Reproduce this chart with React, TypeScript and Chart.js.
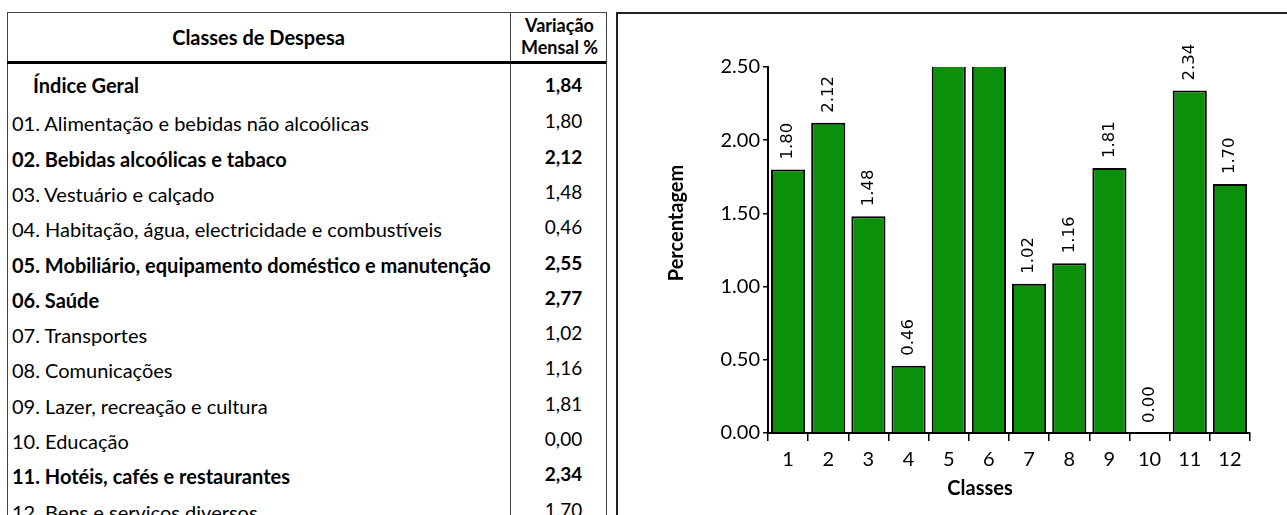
import React, { useEffect, useRef } from "react";
import { Chart, registerables } from "chart.js";

Chart.register(...registerables);

// ---- Data ----
const classLabels = ["1", "2", "3", "4", "5", "6", "7", "8", "9", "10", "11", "12"];
const monthlyVariation = [1.8, 2.12, 1.48, 0.46, 2.55, 2.77, 1.02, 1.16, 1.81, 0.0, 2.34, 1.7];
const yTickValues = [0, 0.5, 1, 1.5, 2, 2.5];
const xAxisTitle = "Classes";
const yAxisTitle = "Percentagem";

const tableHeaderLeft = "Classes de Despesa";
const tableHeaderRight = ["Variação", "Mensal %"];
const tableRowNames = [
  "Índice Geral",
  "01. Alimentação e bebidas não alcoólicas",
  "02. Bebidas alcoólicas e tabaco",
  "03. Vestuário e calçado",
  "04. Habitação, água, electricidade e combustíveis",
  "05. Mobiliário, equipamento doméstico e manutenção",
  "06. Saúde",
  "07. Transportes",
  "08. Comunicações",
  "09. Lazer, recreação e cultura",
  "10. Educação",
  "11. Hotéis, cafés e restaurantes",
  "12. Bens e serviços diversos",
];
const tableRowValues = ["1,84", "1,80", "2,12", "1,48", "0,46", "2,55", "2,77", "1,02", "1,16", "1,81", "0,00", "2,34", "1,70"];
const tableRowBold = [true, false, true, false, false, true, true, false, false, false, false, true, false];

const FONT = "Lato, 'Open Sans', sans-serif";

const barLabelPlugin = {
  id: "barLabels",
  afterDatasetsDraw(chart: any) {
    const ctx = chart.ctx;
    const yScale = chart.scales.y;
    const meta = chart.getDatasetMeta(0);
    const data = chart.data.datasets[0].data as number[];
    ctx.save();
    ctx.fillStyle = "#000";
    ctx.font = "16.5px 'DejaVu Sans', sans-serif";
    ctx.textAlign = "left";
    ctx.textBaseline = "middle";
    meta.data.forEach((bar: any, i: number) => {
      const v = data[i];
      if (v > yScale.max) return;
      ctx.save();
      ctx.translate(bar.x, bar.y - 10);
      ctx.rotate(-Math.PI / 2);
      ctx.fillText(v.toFixed(2), 0, 0);
      ctx.restore();
    });
    ctx.restore();
  },
};

const axisTitlePlugin = {
  id: "axisTitles",
  afterDraw(chart: any) {
    const ctx = chart.ctx;
    const area = chart.chartArea;
    ctx.save();
    ctx.fillStyle = "#000";
    ctx.textAlign = "center";
    ctx.textBaseline = "middle";
    ctx.font = `bold 20px ${FONT}`;
    ctx.fillText(xAxisTitle, (area.left + area.right) / 2 - 29, area.bottom + 56);
    ctx.translate(area.left - 91, (area.top + area.bottom) / 2 - 27);
    ctx.rotate(-Math.PI / 2);
    ctx.font = `bold 20px ${FONT}`;
    ctx.fillText(yAxisTitle, 0, 0);
    ctx.restore();
  },
};

function BarChart() {
  const ref = useRef<HTMLCanvasElement | null>(null);
  useEffect(() => {
    if (!ref.current) return;
    const chart = new Chart(ref.current, {
      type: "bar",
      data: {
        labels: classLabels,
        datasets: [
          {
            data: monthlyVariation,
            backgroundColor: "#0a900a",
            borderColor: "#000",
            borderWidth: (c: any) => (c.raw === 0 ? 0 : 2),
            barPercentage: 0.85,
            categoryPercentage: 1,
            clip: 0,
          } as any,
        ],
      },
      options: {
        animation: false,
        responsive: false,
        maintainAspectRatio: false,
        devicePixelRatio: 1,
        layout: { padding: { top: 53, right: 37, left: 0, bottom: 0 } },
        plugins: { legend: { display: false }, tooltip: { enabled: false } },
        scales: {
          x: {
            type: "category",
            offset: true,
            grid: {
              display: true,
              drawOnChartArea: false,
              drawTicks: true,
              tickLength: 8,
              color: "#000",
              lineWidth: 1.5,
              offset: true,
            },
            border: { display: true, color: "#000", width: 2 },
            ticks: { color: "#000", font: { family: FONT, size: 20 }, padding: 7, maxRotation: 0, autoSkip: false },
            title: { display: false },
            afterFit: (s: any) => {
              s.height = 82;
            },
          },
          y: {
            min: 0,
            max: 2.5,
            afterBuildTicks: (s: any) => {
              s.ticks = yTickValues.map((v) => ({ value: v }));
            },
            grid: { drawOnChartArea: false, drawTicks: true, tickLength: 5, color: "#000", lineWidth: 1.5 },
            border: { display: true, color: "#000", width: 2 },
            ticks: {
              color: "#000",
              font: { family: FONT, size: 20 },
              padding: 3,
              callback: (v: any) => Number(v).toFixed(2),
            },
            title: { display: false },
            afterFit: (s: any) => {
              s.width = 150;
            },
          },
        },
      } as any,
      plugins: [barLabelPlugin, axisTitlePlugin],
    });
    return () => chart.destroy();
  }, []);
  return <canvas ref={ref} width={669} height={501} style={{ position: "absolute", left: 618, top: 14, width: 669, height: 501 }} />;
}

const TABLE_LEFT = 7;
const TABLE_TOP = 12;
const SEP_X = 510;
const TABLE_RIGHT = 605;
const HEADER_BOTTOM = 62;
const ROW_PITCH = 35.3;
const FIRST_ROW_CENTER = 85;
const TEXT_SIZE = 20;
const VALUE_SIZE = 19;

function Table() {
  const border = "1px solid #444";
  return (
    <>
      <div style={{ position: "absolute", left: TABLE_LEFT, top: TABLE_TOP, width: TABLE_RIGHT - TABLE_LEFT, height: 520, borderLeft: border, borderTop: border, borderRight: border }} />
      <div style={{ position: "absolute", left: SEP_X, top: TABLE_TOP, width: 0, height: 520, borderLeft: border }} />
      <div style={{ position: "absolute", left: TABLE_LEFT, top: HEADER_BOTTOM - 1, width: TABLE_RIGHT - TABLE_LEFT + 1, height: 3, background: "#000" }} />
      <div style={{ position: "absolute", left: TABLE_LEFT, top: TABLE_TOP, width: SEP_X - TABLE_LEFT, height: HEADER_BOTTOM - TABLE_TOP, display: "flex", alignItems: "center", justifyContent: "center", fontWeight: 700, fontSize: TEXT_SIZE }}>
        {tableHeaderLeft}
      </div>
      <div style={{ position: "absolute", left: SEP_X + 4, top: TABLE_TOP + 1, width: TABLE_RIGHT - SEP_X - 4, height: HEADER_BOTTOM - TABLE_TOP - 4, display: "flex", flexDirection: "column", alignItems: "center", justifyContent: "center", fontWeight: 700, fontSize: 18, lineHeight: "22px" }}>
        {tableHeaderRight.map((t) => (
          <div key={t}>{t}</div>
        ))}
      </div>
      {tableRowNames.map((name, i) => {
        const cy = FIRST_ROW_CENTER + i * ROW_PITCH;
        const bold = tableRowBold[i];
        return (
          <React.Fragment key={name}>
            <div style={{ position: "absolute", left: i === 0 ? TABLE_LEFT + 26 : TABLE_LEFT + 5, top: cy - 12 + (i === 0 ? 0 : 3), height: 24, lineHeight: "24px", fontSize: TEXT_SIZE, fontWeight: bold ? 700 : 400, whiteSpace: "nowrap" }}>
              {name}
            </div>
            <div style={{ position: "absolute", left: SEP_X + 12, width: TABLE_RIGHT - SEP_X - 12, top: cy - 12 + (i === 0 ? 0 : 1), height: 24, lineHeight: "24px", textAlign: "center", fontSize: VALUE_SIZE, fontWeight: bold ? 700 : 400 }}>
              {tableRowValues[i]}
            </div>
          </React.Fragment>
        );
      })}
    </>
  );
}

export default function App() {
  return (
    <>
      <style>{`body{margin:0;background:#fff;}`}</style>
      <div style={{ position: "relative", width: 1287, height: 515, overflow: "hidden", background: "#fff", fontFamily: FONT, color: "#000" }}>
        <Table />
        <div style={{ position: "absolute", left: 616, top: 12, width: 700, height: 520, borderLeft: "2px solid #222", borderTop: "2px solid #222" }} />
        <BarChart />
      </div>
    </>
  );
}
